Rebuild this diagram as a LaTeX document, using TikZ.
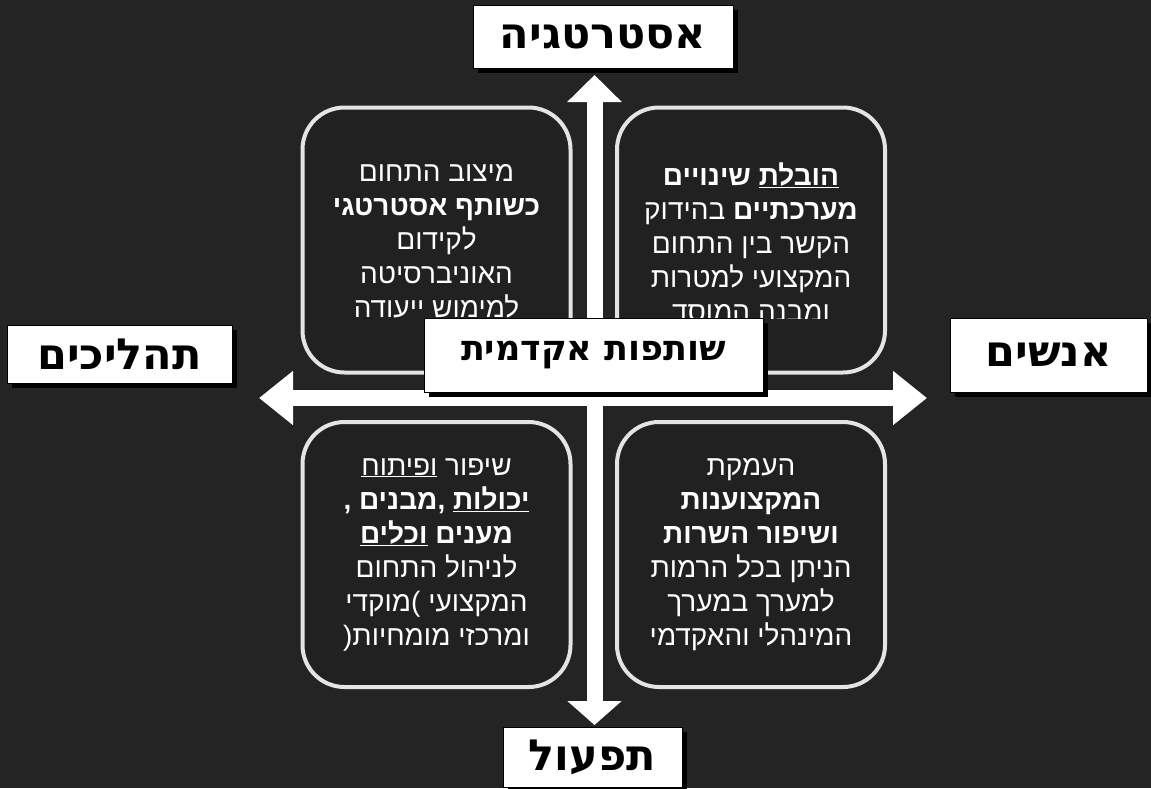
\documentclass[tikz,border=0pt]{standalone}
\usepackage{fontspec}
\usetikzlibrary{arrows.meta,shadows}
\TeXXeTstate=1
\newfontfamily\hebfont[Script=Hebrew]{Liberation Sans}
\newfontfamily\tagfont[Script=Hebrew]{DejaVu Sans}
\definecolor{bgcol}{RGB}{36,36,36}
\definecolor{boxcol}{RGB}{33,33,33}
\definecolor{rimcol}{RGB}{228,228,228}
\newcommand{\rl}[1]{\beginR #1\endR}

\begin{document}
\begin{tikzpicture}[x=1pt,y=-1pt]
  \tikzstyle{quad} = [draw=rimcol,fill=boxcol,line width=4pt,rounded corners=42pt,minimum width=268pt,minimum height=265pt]
  \tikzstyle{txt} = [text=white,align=center,font=\hebfont\fontsize{28}{34}\selectfont]
  \tikzstyle{tag} = [draw=black,line width=1pt,fill=white,inner sep=0pt,font=\tagfont\bfseries\fontsize{43}{48}\selectfont,drop shadow={shadow xshift=5pt,shadow yshift=-5pt,fill=black,opacity=1}]
  \tikzstyle{axis} = [white,line width=16pt]
  \fill[bgcol] (0,0) rectangle (1151,788);
  \useasboundingbox (0,0) rectangle (1151,788);
  % four quadrants
  \node (posit) [quad] at (436.5,240) {};
  \node (chang) [quad] at (751,240) {};
  \node (impr) [quad, txt] at (436.5,554.5) {\rl{שיפור \underline{ופיתוח}}\\
    \rl{\bfseries\underline{יכולות} ,מבנים ,}\\
    \rl{\bfseries מענים \underline{וכלים}}\\
    \rl{לניהול התחום}\\
    \rl{המקצועי )מוקדי}\\
    \rl{ומרכזי מומחיות(}};
  \node (deep) [quad, txt] at (751,554.5) {\rl{העמקת}\\
    \rl{\bfseries המקצוענות}\\
    \rl{\bfseries ושיפור השרות}\\
    \rl{הניתן בכל הרמות}\\
    \rl{למערך במערך}\\
    \rl{המינהלי והאקדמי}};
  \begin{scope}
    \clip (0,0) rectangle (1151,318);
    \node (positx) [txt] at (436.5,241) {\rl{מיצוב התחום}\\
      \rl{\bfseries כשותף אסטרטגי}\\
      \rl{לקידום}\\
      \rl{האוניברסיטה}\\
      \rl{למימוש ייעודה}};
    \node (changx) [txt] at (751,242) {\rl{\bfseries\underline{הובלת} שינויים}\\
      \rl{{\bfseries מערכתיים} בהידוק}\\
      \rl{הקשר בין התחום}\\
      \rl{המקצועי למטרות}\\
      \rl{ומבנה המוסד}};
  \end{scope}
  % axes
  \coordinate (ntip) at (594.5,75);
  \coordinate (stip) at (594.5,725);
  \coordinate (wtip) at (259,398);
  \coordinate (etip) at (927,398);
  \draw [axis,{Triangle[width=53pt,length=24pt]}-{Triangle[width=53pt,length=27pt]}] (stip) -- (ntip);
  \draw [axis,{Triangle[width=52pt,length=34pt]}-{Triangle[width=52pt,length=34pt]}] (wtip) -- (etip);
  % labels
  \node (strat) [tag, minimum width=260pt, minimum height=63pt] at (603,36.5) {\rl{אסטרטגיה}};
  \node (proc) [tag, minimum width=225pt, minimum height=58pt] at (119.5,354) {\rl{תהליכים}};
  \node (peop) [tag, minimum width=197pt, minimum height=74pt] at (1048.5,355) {\rl{אנשים}};
  \node (acad) [tag, minimum width=339pt, minimum height=74pt, font=\tagfont\bfseries\fontsize{35}{40}\selectfont] at (593.5,355) {\rl{שותפות אקדמית}};
  \node (oper) [tag, minimum width=179pt, minimum height=60pt] at (592.5,757) {\rl{תפעול}};
\end{tikzpicture}
\end{document}
